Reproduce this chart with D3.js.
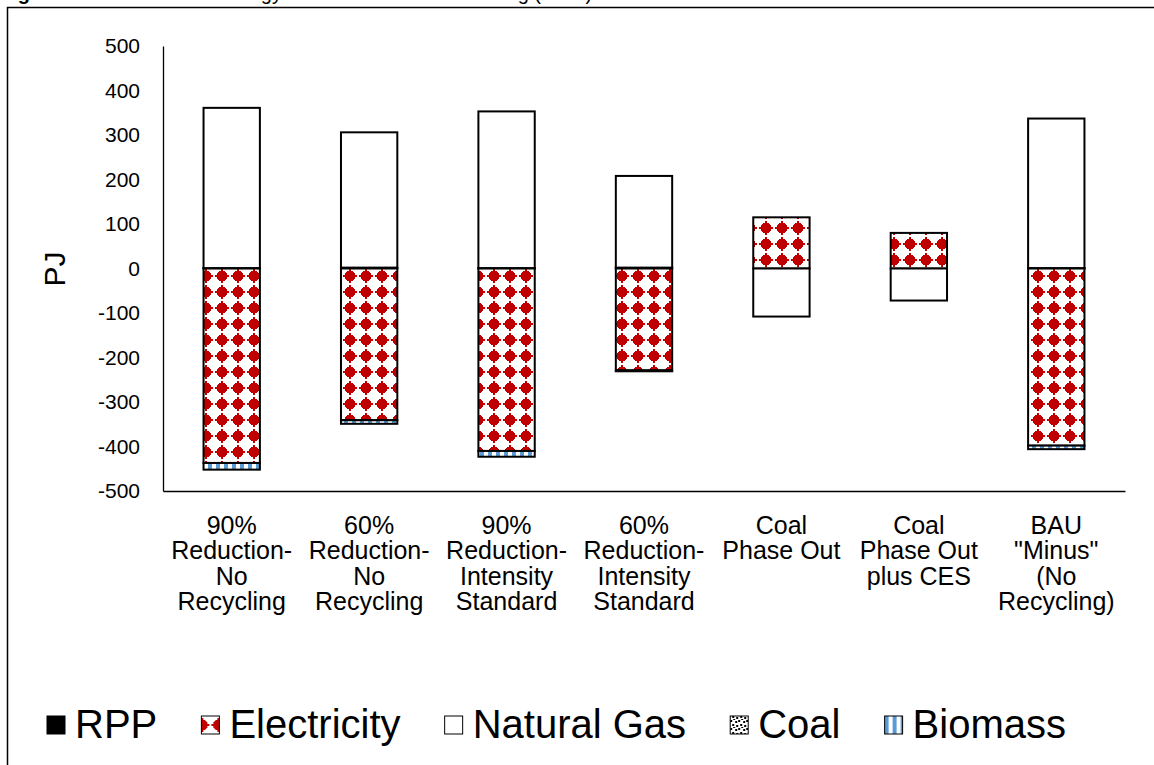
<!DOCTYPE html>
<html>
<head>
<meta charset="utf-8">
<script src="https://cdn.jsdelivr.net/npm/d3@7/dist/d3.min.js"></script>
<style>
  html, body { margin: 0; padding: 0; background: #fff; }
  svg { display: block; font-family: "Liberation Sans", Arial, Helvetica, sans-serif; }
</style>
</head>
<body>
<svg id="chart" width="1154" height="765"></svg>
<script>
// Scenario categories (multi-line labels)
const categories = [
  "90%\nReduction-\nNo\nRecycling",
  "60%\nReduction-\nNo\nRecycling",
  "90%\nReduction-\nIntensity\nStandard",
  "60%\nReduction-\nIntensity\nStandard",
  "Coal\nPhase Out",
  "Coal\nPhase Out\nplus CES",
  "BAU\n\"Minus\"\n(No\nRecycling)"
];

// Fuel series, in stacking order (PJ)
const seriesNames = ["RPP", "Electricity", "Natural Gas", "Coal", "Biomass"];
const rpp         = [1, 2, 1, 2, 0, 0, 1];
const electricity = [-437, -341, -410, -229, 115, 80, -398];
const naturalGas  = [360, 304, 352, 206, -108, -72, 336];
const coal        = [0, 0, 0, 0, 0, 0, 0];
const biomass     = [-15, -8, -13, -2, 0, 0, -8];

const yTicks = [-500, -400, -300, -200, -100, 0, 100, 200, 300, 400, 500];
const yTitle = "PJ";
const figLabel = "Figure 15: ";
const figTitle = "Difference in Energy use in Other Manufacturing (2050)";

const rows = categories.map((c, i) => ({
  cat: c,
  "RPP": rpp[i],
  "Electricity": electricity[i],
  "Natural Gas": naturalGas[i],
  "Coal": coal[i],
  "Biomass": biomass[i]
}));

const svg = d3.select("#chart");
const defs = svg.append("defs");

// Electricity: red studded pattern on white (stud centred on (8,8) of a 16px tile)
const studWidths = [14, 10, 10, 8, 6, 2];
let studPath = "";
for (let k = -6; k < 6; k++) {
  const d = k < 0 ? -k - 1 : k;
  const w = studWidths[d];
  studPath += `M${8 - w / 2},${8 + k}h${w}v1h${-w}Z`;
}
function studPattern(id, px, py) {
  const p = defs.append("pattern").attr("id", id)
    .attr("patternUnits", "userSpaceOnUse")
    .attr("x", px).attr("y", py).attr("width", 16).attr("height", 16);
  p.append("rect").attr("width", 16).attr("height", 16).attr("fill", "#fff");
  p.append("path").attr("d", studPath).attr("fill", "#C00000").attr("shape-rendering", "crispEdges");
  p.append("rect").attr("x", 7).attr("y", 1).attr("width", 2).attr("height", 14)
    .attr("fill", "#C00000").attr("shape-rendering", "crispEdges");
  return p;
}
studPattern("pat-elec", 6, -4);

// Biomass: blue vertical stripes
const pb = defs.append("pattern").attr("id", "pat-bio")
  .attr("patternUnits", "userSpaceOnUse")
  .attr("width", 8).attr("height", 8);
pb.append("rect").attr("width", 8).attr("height", 8).attr("fill", "#fff");
pb.append("rect").attr("x", 0).attr("width", 4).attr("height", 8).attr("fill", "#5B9BD5");

// Coal: black confetti
const pc = defs.append("pattern").attr("id", "pat-coal")
  .attr("patternUnits", "userSpaceOnUse")
  .attr("width", 8).attr("height", 8);
pc.append("rect").attr("width", 8).attr("height", 8).attr("fill", "#fff");
[[0,0],[5,1],[2,4],[6,5],[3,7]].forEach(([x, y]) =>
  pc.append("rect").attr("x", x).attr("y", y).attr("width", 2).attr("height", 2).attr("fill", "#000"));

const fills = {
  "RPP": "#000",
  "Electricity": "url(#pat-elec)",
  "Natural Gas": "#fff",
  "Coal": "url(#pat-coal)",
  "Biomass": "url(#pat-bio)"
};

// Outer frame and the figure caption running off the top edge
svg.append("rect").attr("x", 7.5).attr("y", 7.5).attr("width", 1200).attr("height", 800)
  .attr("fill", "none").attr("stroke", "#000").attr("stroke-width", 1.5);
const t = svg.append("text").attr("x", 0).attr("y", 0).attr("font-size", 20).attr("fill", "#000");
t.append("tspan").attr("font-weight", "bold").text(figLabel);
t.append("tspan").text(figTitle);

// Scales
const x = d3.scaleBand().domain(categories).range([163, 1125])
  .paddingInner(0.59).paddingOuter(0.295);
const y = d3.scaleLinear().domain([-500, 500]).range([491, 46]);

// Stacked bars (diverging around zero)
const stack = d3.stack().keys(seriesNames).offset(d3.stackOffsetDiverging);
const layers = stack(rows);

const gBars = svg.append("g");
layers.forEach(layer => {
  gBars.append("g").selectAll("rect")
    .data(layer.filter(d => d[1] !== d[0]))
    .join("rect")
    .attr("x", d => x(d.data.cat))
    .attr("width", x.bandwidth())
    .attr("y", d => y(Math.max(d[0], d[1])))
    .attr("height", d => Math.abs(y(d[0]) - y(d[1])))
    .attr("fill", fills[layer.key])
    .attr("stroke", "#000")
    .attr("stroke-width", 2);
});

// Y axis
const yAxis = d3.axisLeft(y).tickValues(yTicks).tickSize(0).tickPadding(23)
  .tickFormat(d => String(d));
const gy = svg.append("g").attr("transform", "translate(163,0)").call(yAxis);
gy.select(".domain").attr("stroke", "#000").attr("stroke-width", 1.3);
gy.selectAll("text").attr("font-size", 21).attr("fill", "#000")
  .attr("font-family", "\"Liberation Sans\", Arial, sans-serif");

svg.append("text")
  .attr("transform", "translate(65,269) rotate(-90)")
  .attr("text-anchor", "middle").attr("font-size", 30).attr("fill", "#000")
  .text(yTitle);

// X axis line at the bottom of the plot
const xAxis = d3.axisBottom(x).tickSize(0).tickFormat("");
const gx = svg.append("g").attr("transform", `translate(0,${y(-500)})`).call(xAxis);
gx.select(".domain").attr("stroke", "#000").attr("stroke-width", 1.3);

// Category labels
const labels = svg.append("g").attr("font-size", 25).attr("fill", "#000").attr("text-anchor", "middle");
categories.forEach(c => {
  const cx = x(c) + x.bandwidth() / 2;
  const tx = labels.append("text");
  c.split("\n").forEach((line, i) => {
    tx.append("tspan").attr("x", cx).attr("y", 534 + i * 25.3).text(line);
  });
});

// Legend: items laid out left to right, spread over the legend band
const legendLeft = 47, legendRight = 1066, swatch = 18, swatchGap = 10, swatchTop = 716;
// electricity key: studs sit on the left and right edges of the swatch (group-local coordinates)
studPattern("pat-elec-key", 1 - 8, swatchTop + swatch / 2 - 8);
const keyFills = Object.assign({}, fills, { "Electricity": "url(#pat-elec-key)" });

const lg = svg.append("g");
const items = seriesNames.map(key => {
  const g = lg.append("g");
  g.append("rect").attr("x", 0).attr("y", swatchTop).attr("width", swatch).attr("height", swatch)
    .attr("fill", keyFills[key]).attr("stroke", "#000").attr("stroke-width", 1);
  const txt = g.append("text").attr("x", swatch + swatchGap).attr("y", 738)
    .attr("font-size", 40).attr("fill", "#000").text(key);
  return { g, w: swatch + swatchGap + txt.node().getComputedTextLength() };
});
const totalW = d3.sum(items, d => d.w);
const gap = (legendRight - legendLeft - totalW) / (items.length - 1);
let cursor = legendLeft;
items.forEach(it => {
  it.g.attr("transform", `translate(${cursor},0)`);
  cursor += it.w + gap;
});
</script>
</body>
</html>
